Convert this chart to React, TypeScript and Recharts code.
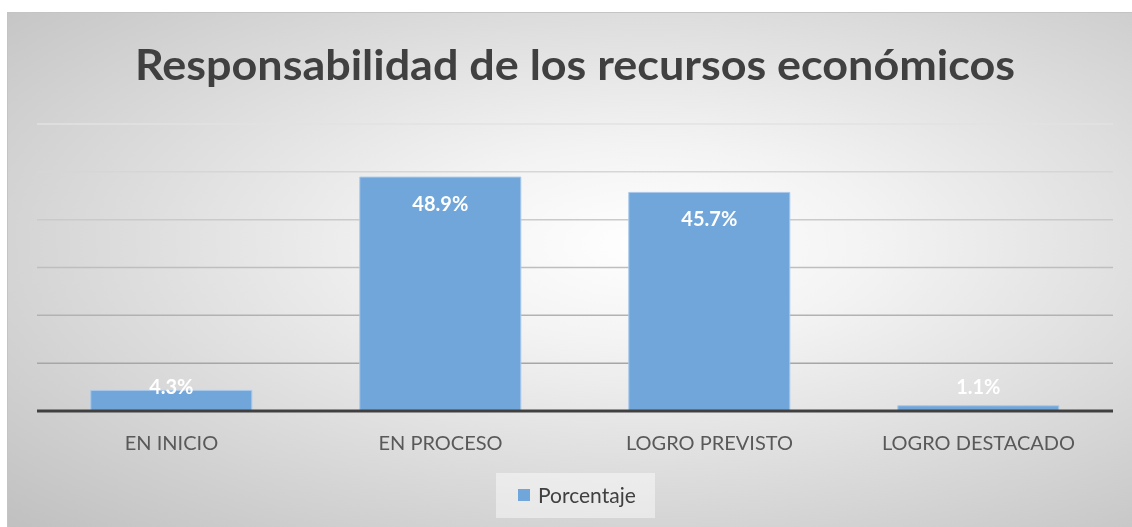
import { BarChart, Bar, XAxis, YAxis, CartesianGrid, LabelList } from 'recharts'

const categories = ['EN INICIO', 'EN PROCESO', 'LOGRO PREVISTO', 'LOGRO DESTACADO']
const porcentaje = [4.3, 48.9, 45.7, 1.1]
const yTicks = [0, 10, 20, 30, 40, 50, 60]

const chartData = categories.map((name, i) => ({ name, value: porcentaje[i] }))

const BAR_FILL = '#70a6da'
const FONT = 'Lato, "Open Sans", sans-serif'

function BarLabel(props: any) {
  const { x, y, width, height, value } = props
  const base = y + height
  const cy = Math.min(y + 27, base - 24)
  return (
    <text
      x={x + width / 2}
      y={cy}
      dy="0.35em"
      textAnchor="middle"
      fill="#ffffff"
      fontFamily={FONT}
      fontWeight={700}
      fontSize={20}
    >
      {value.toFixed(1)}%
    </text>
  )
}

// legend drawn outside the chart so it doesn't eat plot height
function LegendBox() {
  return (
    <div
      style={{
        position: 'absolute',
        left: 488,
        top: 460,
        width: 159,
        height: 45,
        background: 'rgba(255,255,255,0.45)',
        fontFamily: FONT,
      }}
    >
      <div style={{ position: 'absolute', left: 22, top: 16, width: 12, height: 12, background: BAR_FILL }} />
      <div style={{ position: 'absolute', left: 42, top: 9, fontSize: 21, color: '#404040', lineHeight: '26px' }}>
        Porcentaje
      </div>
    </div>
  )
}

export default function App() {
  return (
    <div
      style={{
        position: 'fixed',
        left: 7,
        top: 12,
        width: 1125,
        height: 515,
        borderTop: '1px solid #c4c4c4',
        borderLeft: '1px solid #c4c4c4',
        boxSizing: 'border-box',
        background:
          'radial-gradient(ellipse farthest-corner at 57% 45%, #ffffff 0%, #f3f3f3 25%, #c0c0c0 100%)',
        overflow: 'hidden',
      }}
    >
      <svg width={1125} height={100} style={{ position: 'absolute', left: 0, top: 0 }}>
        <text
          x={567}
          y={67}
          textAnchor="middle"
          fill="#404040"
          fontFamily={FONT}
          fontWeight={700}
          fontSize={42}
          textLength={880}
          lengthAdjust="spacingAndGlyphs"
        >
          Responsabilidad de los recursos económicos
        </text>
      </svg>
      <div style={{ position: 'absolute', left: 0, top: 0 }}>
        <BarChart
          width={1125}
          height={515}
          data={chartData}
          margin={{ top: 111, right: 20, bottom: 87, left: 29 }}
          barCategoryGap="20%"
        >
          <defs>
            <linearGradient id="gridGrad" gradientUnits="userSpaceOnUse" x1="0" y1="111" x2="0" y2="398">
              <stop offset="0%" stopColor="#e2e2e2" />
              <stop offset="100%" stopColor="#9a9a9a" />
            </linearGradient>
          </defs>
          <CartesianGrid vertical={false} stroke="url(#gridGrad)" strokeWidth={1.5} />
          <YAxis hide domain={[0, 60]} ticks={yTicks} />
          <XAxis
            dataKey="name"
            height={30}
            axisLine={{ stroke: '#404040', strokeWidth: 3 }}
            tickLine={false}
            tickMargin={19}
            tick={{ fill: '#595959', fontSize: 20, fontFamily: FONT }}
          />
          <Bar
            dataKey="value"
            name="Porcentaje"
            fill={BAR_FILL}
            stroke="#a8c8ea"
            strokeWidth={1}
            isAnimationActive={false}
          >
            <LabelList dataKey="value" content={BarLabel} />
          </Bar>
        </BarChart>
      </div>
      <LegendBox />
    </div>
  )
}
